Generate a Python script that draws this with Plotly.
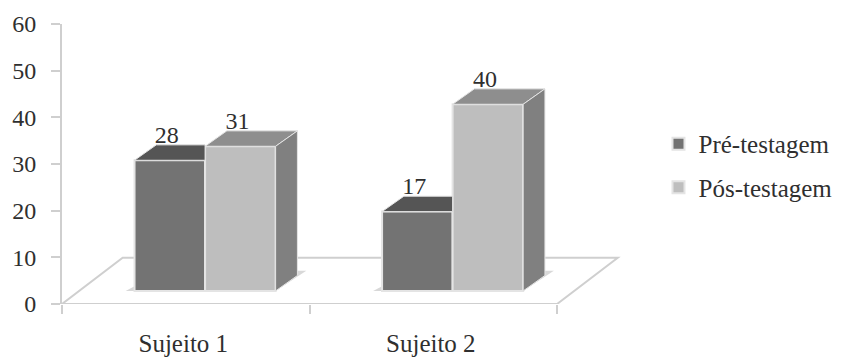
import plotly.graph_objects as go

# Chart data
subjects = ["Sujeito 1", "Sujeito 2"]
pre_values = [28, 17]
post_values = [31, 40]
y_ticks = [0, 10, 20, 30, 40, 50, 60]

# Pseudo-3D geometry, in axis units
GROUP_CENTRE = [0.578, 1.578]
BAR_W = 0.285
BASE = 2.8
DX = 0.088
DY = 3.3
FLOOR_DX = 0.245
FLOOR_DY = 9.9
X_MAX = 2.335

FONT = "Liberation Serif"
TEXT = "#2f2f2f"
RULE = "#cfcfcf"
EDGE = "#e4e4e4"
PRE_FRONT, PRE_TOP = "#737373", "#555555"
POST_FRONT, POST_TOP, POST_SIDE = "#bebebe", "#8e8e8e", "#808080"


def poly_path(points):
    return "M" + "L".join(f"{x},{y}" for x, y in points) + "Z"


def polygon(points, fill):
    xs = [p[0] for p in points] + [points[0][0]]
    ys = [p[1] for p in points] + [points[0][1]]
    return go.Scatter(x=xs, y=ys, mode="lines", fill="toself", fillcolor=fill,
                      line=dict(color=EDGE, width=1), hoverinfo="skip", showlegend=False)


fig = go.Figure()

pre_x = [c - BAR_W / 2 for c in GROUP_CENTRE]
post_x = [c + BAR_W / 2 for c in GROUP_CENTRE]

fig.add_trace(go.Bar(x=pre_x, y=pre_values, base=BASE, width=BAR_W, name="Pré-testagem",
                     marker=dict(color=PRE_FRONT, line=dict(color=EDGE, width=2)),
                     legendgroup="pre"))
fig.add_trace(go.Bar(x=post_x, y=post_values, base=BASE, width=BAR_W, name="Pós-testagem",
                     marker=dict(color=POST_FRONT, line=dict(color=EDGE, width=2)),
                     legendgroup="post"))

shapes = [dict(type="path", layer="below", xref="x", yref="y", fillcolor="white",
               line=dict(color=RULE, width=2),
               path=poly_path([(0, 0), (2, 0), (2 + FLOOR_DX, FLOOR_DY), (FLOOR_DX, FLOOR_DY)]))]

for i in range(len(subjects)):
    left = pre_x[i] - BAR_W / 2
    mid = pre_x[i] + BAR_W / 2
    right = post_x[i] + BAR_W / 2
    pre_top = BASE + pre_values[i]
    post_top = BASE + post_values[i]

    # soft shadow on the floor around the foot of each group
    shapes.append(dict(type="path", layer="below", xref="x", yref="y", fillcolor="#d8d8d8",
                       line=dict(width=0),
                       path=poly_path([(left - 0.036, BASE), (left, BASE + 1), (left, BASE)])))
    shapes.append(dict(type="path", layer="below", xref="x", yref="y", fillcolor="#d8d8d8",
                       line=dict(width=0),
                       path=poly_path([(right, BASE), (right + DX, BASE + DY + 1),
                                       (right + DX + 0.036, BASE + DY + 1)])))

    fig.add_trace(polygon([(left, pre_top), (left + DX, pre_top + DY),
                           (mid, pre_top + DY), (mid, pre_top)], PRE_TOP))
    fig.add_trace(polygon([(mid, post_top), (mid + DX, post_top + DY),
                           (right + DX, post_top + DY), (right, post_top)], POST_TOP))
    fig.add_trace(polygon([(right, BASE), (right + DX, BASE + DY),
                           (right + DX, post_top + DY), (right, post_top)], POST_SIDE))

# Value labels sit just above the front edge of each bar
label_offset = 5.0
label_shift = -0.012
fig.add_trace(go.Scatter(
    x=[x + label_shift for x in pre_x + post_x],
    y=[BASE + v + label_offset for v in pre_values + post_values],
    text=[str(v) for v in pre_values + post_values],
    mode="text", textposition="middle center",
    textfont=dict(family=FONT, size=24, color=TEXT),
    hoverinfo="skip", showlegend=False))

fig.update_layout(
    width=841, height=359, autosize=False,
    margin=dict(l=62, r=201, t=24, b=55, autoexpand=False),
    paper_bgcolor="white", plot_bgcolor="white",
    barmode="overlay", shapes=shapes,
    font=dict(family=FONT, size=25, color=TEXT),
    legend=dict(x=1.032, xanchor="left", y=0.495, yanchor="middle",
                font=dict(family=FONT, size=25, color=TEXT),
                tracegroupgap=8, itemwidth=30, bgcolor="rgba(0,0,0,0)"),
    xaxis=dict(range=[0, X_MAX], tickvals=[0.49, 1.49], ticktext=subjects,
               ticks="", showgrid=False, showline=False, zeroline=False, ticklabelstandoff=22,
               automargin=False,
               minor=dict(tickvals=[0, 1, 2], ticks="outside", ticklen=9, tickwidth=2,
                          tickcolor=RULE, showgrid=False)),
    yaxis=dict(range=[0, 60], tickvals=y_ticks, ticks="outside", ticklen=9, tickwidth=2,
               tickcolor=RULE, showgrid=False, showline=True, linecolor=RULE, linewidth=2,
               zeroline=False, ticklabelstandoff=10, automargin=False,
               tickfont=dict(family=FONT, size=24, color=TEXT)),
)

fig.write_html("out.html")
